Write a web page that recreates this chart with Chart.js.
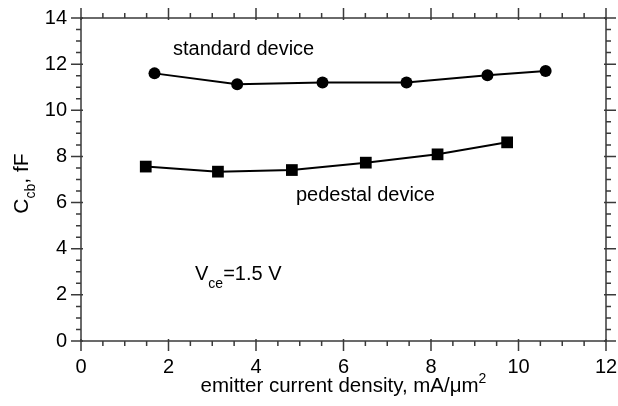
<!DOCTYPE html>
<html>
<head>
<meta charset="utf-8">
<script src="https://cdn.jsdelivr.net/npm/chart.js@4"></script>
<style>
  html, body { margin: 0; padding: 0; background: #fff; }
  #wrap { width: 618px; height: 406px; }
</style>
</head>
<body>
<div id="wrap"><canvas id="c" width="618" height="406"></canvas></div>
<script>
// ---- data ----
const standardX = [1.68, 3.57, 5.52, 7.44, 9.29, 10.62];
const standardY = [11.60, 11.13, 11.20, 11.20, 11.52, 11.70];
const pedestalX = [1.48, 3.13, 4.82, 6.51, 8.15, 9.74];
const pedestalY = [7.56, 7.34, 7.41, 7.73, 8.09, 8.61];
const xTickLabels = [0, 2, 4, 6, 8, 10, 12];
const yTickLabels = [0, 2, 4, 6, 8, 10, 12, 14];

const FONT = '"Liberation Sans", Arial, sans-serif';
const AXIS_COLOR = '#3a3a3a';

function pts(xs, ys) { return xs.map((x, i) => ({ x: x, y: ys[i] })); }

function drawRich(ctx, parts, x, y, align) {
  let total = 0;
  parts.forEach(p => { ctx.font = p.size + 'px ' + FONT; total += ctx.measureText(p.t).width; });
  let cx = align === 'center' ? x - total / 2 : x;
  parts.forEach(p => {
    ctx.font = p.size + 'px ' + FONT;
    ctx.fillText(p.t, cx, y + (p.dy || 0));
    cx += ctx.measureText(p.t).width;
  });
}

const decor = {
  id: 'decor',
  afterDraw(chart) {
    const ctx = chart.ctx;
    const xs = chart.scales.x, ys = chart.scales.y;
    const a = chart.chartArea;
    ctx.save();
    ctx.strokeStyle = AXIS_COLOR;
    ctx.lineWidth = 1.5;
    ctx.strokeRect(a.left, a.top, a.right - a.left, a.bottom - a.top);
    ctx.beginPath();
    xs.ticks.forEach(t => {
      const px = xs.getPixelForValue(t.value);
      const major = xTickLabels.includes(t.value);
      const len = major ? 10 : 5, inn = major ? 2 : 0;
      ctx.moveTo(px, a.bottom - inn); ctx.lineTo(px, a.bottom + len);
      ctx.moveTo(px, a.top + inn); ctx.lineTo(px, a.top - len);
    });
    ys.ticks.forEach(t => {
      const py = ys.getPixelForValue(t.value);
      const major = yTickLabels.includes(t.value);
      const len = major ? 10 : 5, inn = major ? 2 : 0;
      ctx.moveTo(a.left + inn, py); ctx.lineTo(a.left - len, py);
      ctx.moveTo(a.right - inn, py); ctx.lineTo(a.right + len, py);
    });
    ctx.stroke();

    ctx.fillStyle = '#000';
    ctx.textBaseline = 'alphabetic';
    ctx.textAlign = 'left';
    drawRich(ctx, [{ t: 'standard device', size: 20 }], 173, 55);
    drawRich(ctx, [{ t: 'pedestal device', size: 20 }], 296, 201);
    drawRich(ctx, [{ t: 'V', size: 20 }, { t: 'ce', size: 14, dy: 8 }, { t: '=1.5 V', size: 20 }], 195, 280);

    drawRich(ctx, [{ t: 'emitter current density, mA/\u03bcm', size: 20.5 }, { t: '2', size: 14, dy: -9 }],
      (a.left + a.right) / 2, 392, 'center');

    ctx.translate(28, (a.top + a.bottom) / 2 + 4);
    ctx.rotate(-Math.PI / 2);
    drawRich(ctx, [{ t: 'C', size: 21 }, { t: 'cb', size: 14, dy: 7 }, { t: ', fF', size: 21 }], 0, 0, 'center');
    ctx.restore();
  }
};

const chart = new Chart(document.getElementById('c'), {
  type: 'line',
  data: {
    datasets: [
      {
        label: 'standard device',
        data: pts(standardX, standardY),
        borderColor: '#000', backgroundColor: '#000',
        borderWidth: 2, pointStyle: 'circle', pointRadius: 6,
        pointBorderWidth: 0, tension: 0
      },
      {
        label: 'pedestal device',
        data: pts(pedestalX, pedestalY),
        borderColor: '#000', backgroundColor: '#000',
        borderWidth: 2, pointStyle: 'rect', pointRadius: 8.3,
        pointBorderWidth: 0, tension: 0
      }
    ]
  },
  options: {
    responsive: false,
    animation: false,
    events: [],
    layout: { padding: { top: 18, right: 12, left: 0, bottom: 0 } },
    plugins: { legend: { display: false }, tooltip: { enabled: false } },
    scales: {
      x: {
        type: 'linear', min: 0, max: 12,
        ticks: {
          stepSize: 0.5, autoSkip: false, maxRotation: 0, padding: 4,
          color: '#000', font: { size: 20, family: FONT },
          callback: v => xTickLabels.includes(v) ? String(v) : ''
        },
        grid: { display: true, drawOnChartArea: false, tickLength: 10, tickColor: 'rgba(0,0,0,0)' },
        border: { display: false },
        afterFit(s) { s.height = 65; s.paddingRight = 0; s.paddingLeft = 0; }
      },
      y: {
        type: 'linear', min: 0, max: 14,
        ticks: {
          stepSize: 0.5, autoSkip: false, padding: 4,
          color: '#000', font: { size: 20, family: FONT },
          callback: v => yTickLabels.includes(v) ? String(v) : ''
        },
        grid: { display: true, drawOnChartArea: false, tickLength: 10, tickColor: 'rgba(0,0,0,0)' },
        border: { display: false },
        afterFit(s) { s.width = 81; s.paddingTop = 0; s.paddingBottom = 0; }
      }
    }
  },
  plugins: [decor]
});
</script>
</body>
</html>
